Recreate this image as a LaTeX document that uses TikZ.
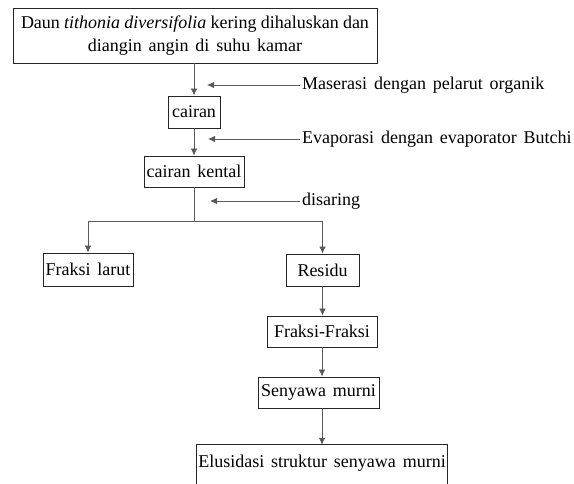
\documentclass[tikz,border=0pt]{standalone}
\usepackage{fontspec}
\setmainfont{Liberation Serif}
\usetikzlibrary{arrows.meta}
\tikzset{
  boxline/.style={draw=black!85, line width=0.85pt},
  box/.style={boxline, inner sep=0pt, align=center,
    font=\fontsize{18}{22}\selectfont},
  boxtext/.style={inner sep=0pt, align=center, font=\fontsize{18}{22}\selectfont},
  lab/.style={inner sep=2pt, anchor=west, font=\fontsize{18}{22}\selectfont},
  conn/.style={draw=black!65, line width=0.8pt},
  arr/.style={conn, -{Latex[length=7pt,width=6.5pt]}}
}
\begin{document}
\begin{tikzpicture}[x=1pt,y=-1pt]
\useasboundingbox (0,0) rectangle (574,483);
\clip (0,0) rectangle (574,483);
\fill[white] (0,0) rectangle (574,483);
% boxes
\node[box, minimum width=364pt, minimum height=55pt] (top) at (195,35.5)
  {\makebox[348pt][s]{Daun \textit{tithonia diversifolia} kering dihaluskan dan}\\[1pt]
   \spaceskip=0.38em diangin angin di suhu kamar};
\node[box, minimum width=52pt, minimum height=32pt] (c1) at (194,112) {cairan};
\node[box, minimum width=100pt, minimum height=31pt] (c2) at (194,171.5) {\spaceskip=0.38em cairan kental};
\node[box, minimum width=90pt, minimum height=33pt] (fl) at (88,269.5) {\spaceskip=0.38em Fraksi larut};
\node[box, minimum width=73pt, minimum height=32pt] (res) at (322.5,270) {Residu};
\node[box, minimum width=110pt, minimum height=31pt] (ff) at (322,331.5) {Fraksi-Fraksi};
\node[box, minimum width=121pt, minimum height=31pt] (sm) at (318.5,392.5) {\spaceskip=0.38em Senyawa murni};
\node[boxtext, minimum width=250pt, minimum height=36pt] (el) at (322,463) {\spaceskip=0.38em Elusidasi struktur senyawa murni};
\draw[boxline] (el.north west) rectangle ([yshift=-10pt]el.south east);
% side labels
\node[lab] (m1) at (300,85) {\spaceskip=0.38em Maserasi dengan pelarut organik};
\node[lab] (m2) at (300,139) {\spaceskip=0.38em Evaporasi dengan evaporator Butchi};
\node[lab] (m3) at (300,201) {disaring};
\coordinate (t1) at (207,85);
\coordinate (t2) at (208,139);
\coordinate (t3) at (210,201);
\draw[arr] (m1.west) -- (t1);
\draw[arr] (m2.west) -- (t2);
\draw[arr] (m3.west) -- (t3);
% main flow
\draw[arr] (top.south -| c1.north) -- (c1.north);
\draw[arr] (c1.south) -- (c2.north);
\coordinate (br) at (194,221);
\draw[conn] (c2.south) -- (br);
\draw[arr] (br) -| (fl.north);
\draw[arr] (br) -| (res.north);
\draw[arr] (res.south) -- (ff.north -| res.south);
\draw[arr] (ff.south) -- (sm.north -| ff.south);
\draw[arr] (sm.south -| ff.south) -- (el.north -| ff.south);
\end{tikzpicture}
\end{document}
